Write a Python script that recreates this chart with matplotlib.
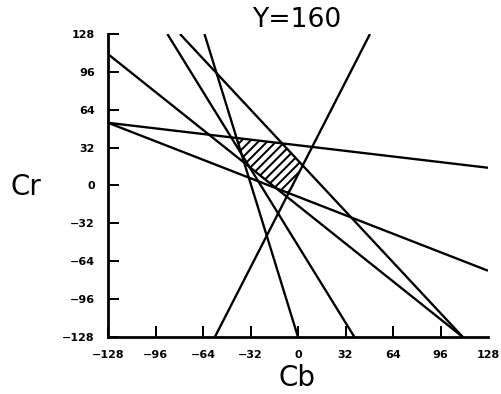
import matplotlib
matplotlib.use('Agg')
import matplotlib.pyplot as plt
import numpy as np

# boundary lines: (Cb, Cr) at each end
cb_start = [48.5, -128, -128, -128, -63, -88, -79.5]
cr_start = [128, 53, 53, 111, 128, 128, 128]
cb_end = [-56, 128, 128, 111, 0, 38, 111]
cr_end = [-128, 15, -72, -128, -128, -128, -128]

# a point inside the shaded (skin) region
seed = (-20, 25)

ticks = [-128, -96, -64, -32, 0, 32, 64, 96, 128]
title = 'Y=160'


def clip(poly, p0, p1, inside):
    # keep the side of line p0-p1 that holds the point "inside"
    def side(p):
        return (p1[0] - p0[0]) * (p[1] - p0[1]) - (p1[1] - p0[1]) * (p[0] - p0[0])
    s_in = np.sign(side(inside))
    out = []
    n = len(poly)
    for i in range(n):
        a = poly[i]
        b = poly[(i + 1) % n]
        sa = side(a) * s_in
        sb = side(b) * s_in
        if sa >= 0:
            out.append(a)
        if sa * sb < 0:
            t = sa / (sa - sb)
            out.append((a[0] + t * (b[0] - a[0]), a[1] + t * (b[1] - a[1])))
    return out


region = [(-128, -128), (128, -128), (128, 128), (-128, 128)]
for i in range(len(cb_start)):
    region = clip(region, (cb_start[i], cr_start[i]), (cb_end[i], cr_end[i]), seed)

plt.rcParams['hatch.linewidth'] = 1.8

fig = plt.figure(figsize=(501 / 80, 394 / 80), dpi=80)
ax = fig.add_axes([108 / 501, 57 / 394, 380 / 501, 303 / 394])

ax.fill([p[0] for p in region], [p[1] for p in region], facecolor='white',
        edgecolor='black', hatch='///', linewidth=0)

for i in range(len(cb_start)):
    ax.plot([cb_start[i], cb_end[i]], [cr_start[i], cr_end[i]], color='black',
            linewidth=2.1, solid_capstyle='butt')

ax.set_xlim(-128, 128)
ax.set_ylim(-128, 128)
ax.set_xticks(ticks)
ax.set_yticks(ticks)
ax.set_xticklabels([str(t) if t >= 0 else '\u2212' + str(-t) for t in ticks])
ax.set_yticklabels([str(t) if t >= 0 else '\u2212' + str(-t) for t in ticks])
ax.tick_params(direction='in', length=10, width=1.8, labelsize=10, pad=12)
ax.xaxis.get_major_ticks()[-1].tick1line.set_visible(False)
for lab in ax.get_xticklabels() + ax.get_yticklabels():
    lab.set_fontweight('bold')
    lab.set_family('DejaVu Sans')

ax.spines['top'].set_visible(False)
ax.spines['right'].set_visible(False)
ax.spines['left'].set_linewidth(2.5)
ax.spines['bottom'].set_linewidth(2.5)

fig.text(26 / 501, 1 - 187 / 394, 'Cr', fontsize=25, family='DejaVu Sans',
         ha='center', va='center')
fig.text(297 / 501, 1 - 378 / 394, 'Cb', fontsize=25, family='DejaVu Sans',
         ha='center', va='center')
fig.text(297 / 501, 1 - 20 / 394, title, fontsize=24, family='DejaVu Sans',
         ha='center', va='center')

fig.savefig('out.png', dpi=80)
